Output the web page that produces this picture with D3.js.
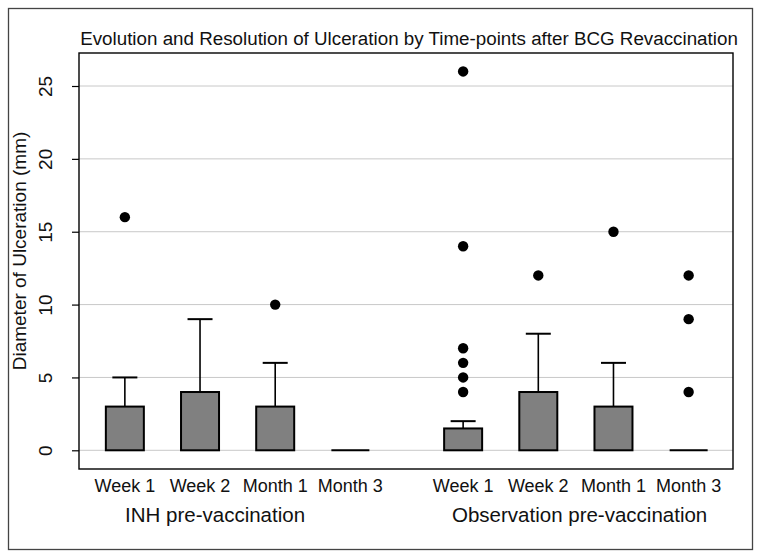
<!DOCTYPE html>
<html><head><meta charset="utf-8">
<script src="https://cdn.jsdelivr.net/npm/d3@7"></script>
<style>body{margin:0;background:#fff}svg{display:block}text{font-family:"Liberation Sans",Arial,sans-serif;fill:#111}</style>
</head><body>
<script>
// ---- data ----
const groups = ["INH pre-vaccination", "Observation pre-vaccination"];
const timepoints = ["Week 1", "Week 2", "Month 1", "Month 3"];
const barGroup = [0,0,0,0,1,1,1,1];
const barLabel = ["Week 1","Week 2","Month 1","Month 3","Week 1","Week 2","Month 1","Month 3"];
const barValue = [3, 4, 3, 0, 1.5, 4, 3, 0];
const whiskerTop = [5, 9, 6, 0, 2, 8, 6, 0];
const outliers = [[16], [], [10], [], [4,5,6,7,14,26], [12], [15], [4,9,12]];
const yTicks = [0,5,10,15,20,25];
const title = "Evolution and Resolution of Ulceration by Time-points after BCG Revaccination";
const yTitle = "Diameter of Ulceration (mm)";

const W = 762, H = 559;
const svg = d3.select("body").append("svg").attr("width", W).attr("height", H);

// outer frame
svg.append("rect").attr("x",8.5).attr("y",8.5).attr("width",744).attr("height",541)
  .attr("fill","none").attr("stroke","#444").attr("stroke-width",1.3);

const plot = {l:79, t:53, r:733, b:469};
// slot positions: groups separated by 1.5 spacing
const slot = barGroup.map((g,i)=> i + g*0.5);
const x = d3.scaleLinear().domain([-0.61, 8.09]).range([plot.l, plot.r]);
const y = d3.scaleLinear().domain([0, 25]).range([450.3, 86]);

// gridlines
svg.append("g").selectAll("line").data(yTicks).join("line")
  .attr("x1",plot.l).attr("x2",plot.r).attr("y1",d=>y(d)).attr("y2",d=>y(d))
  .attr("stroke","#c8c8c8").attr("stroke-width",1);

// y axis
const yAxis = d3.axisLeft(y).tickValues(yTicks).tickSize(7).tickPadding(0).tickFormat(d3.format("d"));
const ga = svg.append("g").attr("transform",`translate(${plot.l},0)`).call(yAxis);
ga.select(".domain").remove();
ga.selectAll(".tick line").attr("stroke","#000").attr("stroke-width",1.2);
ga.selectAll(".tick text").attr("font-size",19).attr("fill","#111")
  .attr("transform","rotate(-90)").attr("x",0).attr("y",-27).attr("dy","0").attr("text-anchor","middle");

// plot border
svg.append("rect").attr("x",plot.l).attr("y",plot.t).attr("width",plot.r-plot.l).attr("height",plot.b-plot.t)
  .attr("fill","none").attr("stroke","#000").attr("stroke-width",1.4);

const bw = 38, cap = 25;
const idx = d3.range(barValue.length);
// whiskers
const wg = svg.append("g");
idx.forEach(i=>{
  if (whiskerTop[i] > barValue[i]) {
    const cx = x(slot[i]);
    wg.append("line").attr("x1",cx).attr("x2",cx).attr("y1",y(barValue[i])).attr("y2",y(whiskerTop[i]))
      .attr("stroke","#000").attr("stroke-width",1.6);
    wg.append("line").attr("x1",cx-cap/2).attr("x2",cx+cap/2).attr("y1",y(whiskerTop[i])).attr("y2",y(whiskerTop[i]))
      .attr("stroke","#000").attr("stroke-width",2);
  }
});
// bars (non-zero as rects, zero-height as a flat line)
svg.append("g").selectAll("rect").data(idx.filter(i=>barValue[i]>0)).join("rect")
  .attr("x",i=>x(slot[i])-bw/2).attr("width",bw)
  .attr("y",i=>y(barValue[i])).attr("height",i=>y(0)-y(barValue[i]))
  .attr("fill","#808080").attr("stroke","#000").attr("stroke-width",2);
svg.append("g").selectAll("line").data(idx.filter(i=>barValue[i]===0)).join("line")
  .attr("x1",i=>x(slot[i])-bw/2).attr("x2",i=>x(slot[i])+bw/2)
  .attr("y1",i=>y(barValue[i])).attr("y2",i=>y(barValue[i]))
  .attr("stroke","#000").attr("stroke-width",2);
// outliers
const pts = idx.flatMap(i=>outliers[i].map(v=>({i,v})));
svg.append("g").selectAll("circle").data(pts).join("circle")
  .attr("cx",d=>x(slot[d.i])).attr("cy",d=>y(d.v)).attr("r",5.2).attr("fill","#000");

// x tick labels
svg.append("g").selectAll("text").data(idx).join("text")
  .attr("x",i=>x(slot[i])).attr("y",492).attr("text-anchor","middle").attr("font-size",18)
  .text(i=>barLabel[i]);
// group labels
const groupPos = [1.2, 6.05];
svg.append("g").selectAll("text").data(groups).join("text")
  .attr("x",(d,g)=>x(groupPos[g])).attr("y",522).attr("text-anchor","middle").attr("font-size",20.5)
  .text(d=>d);

// title
svg.append("text").attr("x",(80+738)/2).attr("y",45).attr("text-anchor","middle").attr("font-size",18.8).text(title);
// y title
svg.append("text").attr("transform",`translate(26,251) rotate(-90)`).attr("text-anchor","middle")
  .attr("font-size",19).text(yTitle);
</script>
</body></html>
